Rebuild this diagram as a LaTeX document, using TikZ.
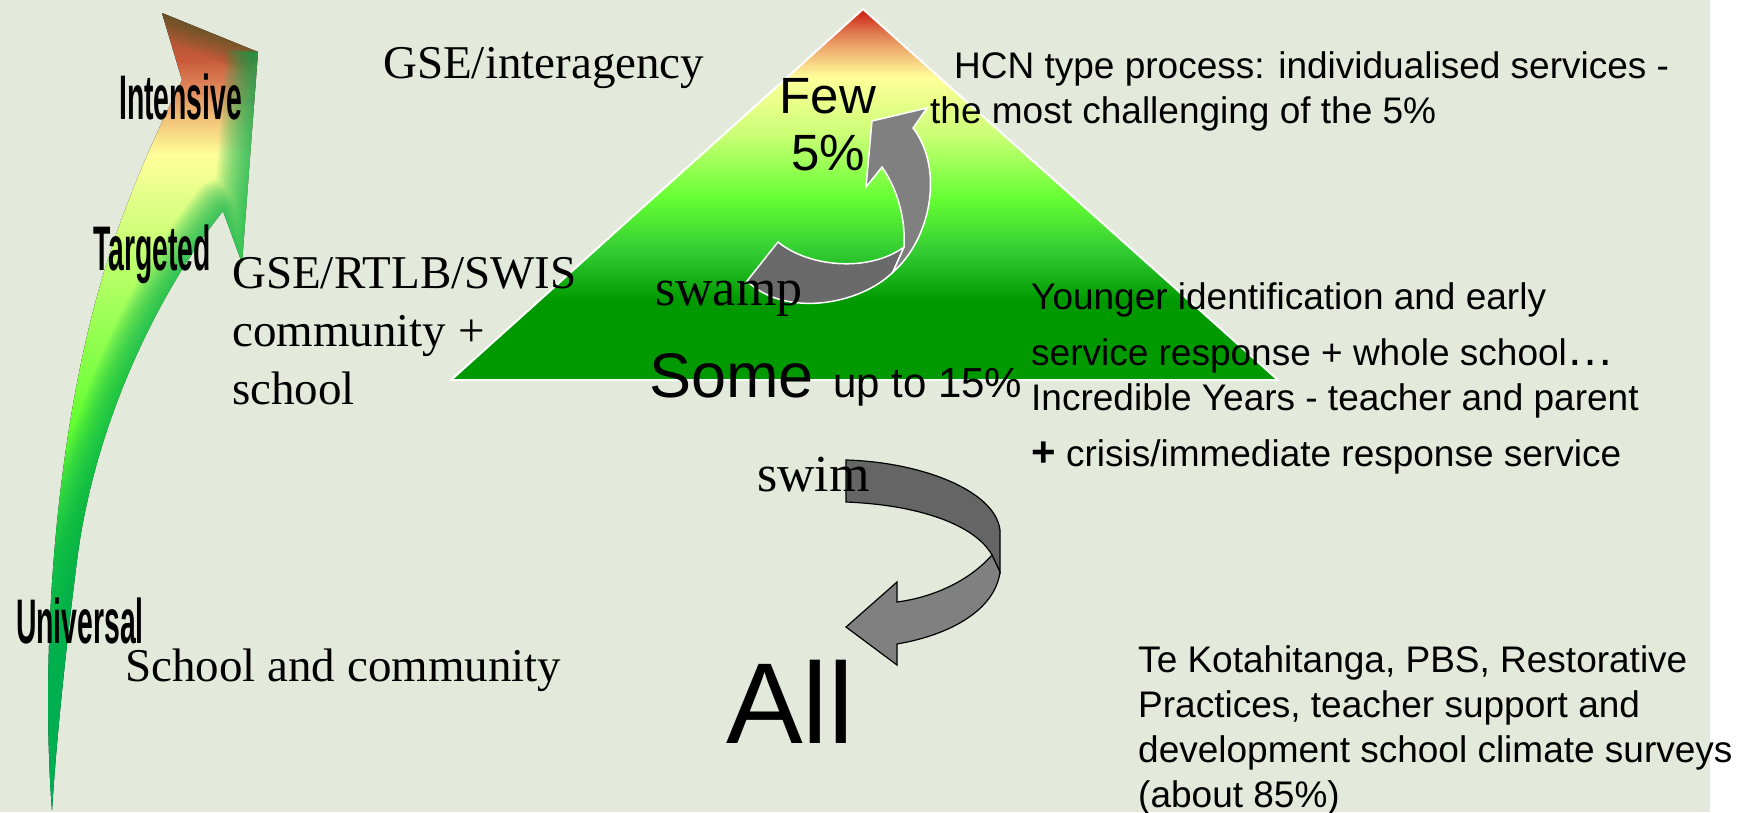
\documentclass[tikz,border=0pt]{standalone}
\usepackage{fontspec}
\setmainfont{Liberation Serif}
\setsansfont{Liberation Sans}

% slide colours
\definecolor{slidebg}{HTML}{E3E9DB}
\definecolor{ribbondark}{HTML}{6A6A6A}
\definecolor{ribbonlight}{HTML}{808080}
\definecolor{climbedge}{HTML}{00B050}
% pyramid shading stops
\definecolor{pyr0}{HTML}{CC1A10}
\definecolor{pyr1}{HTML}{E07A50}
\definecolor{pyr2}{HTML}{F0B070}
\definecolor{pyr3}{HTML}{FFFF99}
\definecolor{pyr4}{HTML}{CCFF77}
\definecolor{pyr5}{HTML}{66FF33}
\definecolor{pyr6}{HTML}{33CC33}
\definecolor{pyr7}{HTML}{009900}
% rising arrow shading stops
\definecolor{climb0}{HTML}{A05030}
\definecolor{climb1}{HTML}{C85A3A}
\definecolor{climb2}{HTML}{E28A5E}
\definecolor{climb3}{HTML}{F2C47A}
\definecolor{climb4}{HTML}{FFFF99}
\definecolor{climb5}{HTML}{E2FF88}
\definecolor{climb6}{HTML}{A6FF5C}
\definecolor{climb7}{HTML}{66FF33}
\definecolor{climb8}{HTML}{22CC44}
\definecolor{climb9}{HTML}{00B050}

\pgfdeclareverticalshading{pyramidfill}{100bp}{color(0bp)=(pyr7); color(25bp)=(pyr7);
  color(35.7bp)=(pyr7); color(42.4bp)=(pyr6); color(49.6bp)=(pyr5); color(58.2bp)=(pyr4);
  color(65.8bp)=(pyr3); color(69.5bp)=(pyr2); color(71.8bp)=(pyr1); color(75bp)=(pyr0);
  color(100bp)=(pyr0)}
\pgfdeclareverticalshading{climbfill}{100bp}{color(0bp)=(climb9); color(31.9bp)=(climb9);
  color(41.3bp)=(climb8); color(49.5bp)=(climb7); color(57bp)=(climb6); color(63.3bp)=(climb5);
  color(66.1bp)=(climb4); color(68.3bp)=(climb3); color(70.2bp)=(climb2); color(72.05bp)=(climb1);
  color(75bp)=(climb0); color(100bp)=(climb0)}

% outline of the rising arrow
\newcommand\climbpath{(52,810) .. controls (40,650) and (55,420) .. (110,253)
  .. controls (130,190) and (160,125) .. (182,80) -- (162,13) -- (258,52) -- (242,263) -- (223,211)
  .. controls (160,290) and (95,420) .. (77,560) .. controls (62,680) and (55,760) .. (52,810) -- cycle}

\tikzset{
  lbl/.style={inner sep=0, anchor=base west},
  serif/.style={lbl, font=\fontsize{47}{58}\selectfont},
  info/.style={lbl, align=left, font=\sffamily\fontsize{37}{45}\selectfont},
  tier/.style={lbl, font=\sffamily\bfseries\fontsize{63}{63}\selectfont},
  ribbon/.style={line width=1.5, line join=miter},
}

\begin{document}
\begin{tikzpicture}[x=1pt, y=-1pt]
% backdrop
\fill[white] (0,0) rectangle (1756,812);
\fill[slidebg] (0,0) rectangle (1710,812);
\useasboundingbox (0,0) rectangle (1756,812);

% rising arrow on the left, darker green along its right edge
\fill[shading=climbfill] \climbpath;
\begin{scope}
  \clip \climbpath;
  \foreach \w in {4,8,...,48}
    \draw[line width=\w, draw=climbedge!50!black, opacity=0.03] (162,13) -- (258,52);
  \foreach \w in {4,8,...,64}
    \draw[line width=\w, draw=climbedge, opacity=0.07, line join=round]
      (258,52) -- (242,263) -- (223,211) .. controls (160,290) and (95,420) .. (77,560)
      .. controls (62,680) and (55,760) .. (52,810);
\end{scope}

% pyramid
\shadedraw[shading=pyramidfill, draw=white, line width=2] (863,9) -- (1278,380) -- (451,380) -- cycle;

% swamp -> few ribbon
\filldraw[ribbon, fill=ribbondark, draw=white] (778,242) .. controls (810,268) and (870,272) .. (904,247)
  -- (893,272) .. controls (860,305) and (785,318) .. (747,281) -- cycle;
\filldraw[ribbon, fill=ribbonlight, draw=white] (893,272) .. controls (930,240) and (945,170) .. (913,128)
  -- (927,108) -- (872,121) -- (866,187) -- (882,167) .. controls (895,185) and (906,215) .. (904,247) -- cycle;

% swim -> all ribbon
\filldraw[ribbon, line width=1.2, fill=ribbondark!95!black, draw=black] (846,460) .. controls (920,462) and (995,490) .. (1000,530)
  -- (1000,572) -- (992,555) .. controls (975,525) and (920,505) .. (846,502) -- cycle;
\filldraw[ribbon, line width=1.2, fill=ribbonlight, draw=black] (992,555) .. controls (970,580) and (935,597) .. (897,602)
  -- (897,582) -- (846,627) -- (897,665) -- (897,644) .. controls (950,635) and (995,610) .. (1000,572) -- cycle;

% tier names along the arrow
\node[tier] (intensive) at (119,119) {\scalebox{0.45}[1]{Intensive}};
\node[tier] (targeted) at (93,270) {\scalebox{0.45}[1]{Targeted}};
\node[tier] (universal) at (16,643) {\scalebox{0.45}[1]{Universal}};

% who delivers (multi-line nodes sit on their last baseline)
\node[serif] (gseinter) at (383,78) {GSE/interagency};
\node[serif, align=left] (gsertlb) at (232,404) {GSE/RTLB/SWIS\\community +\\school};
\node[serif] (schoolcomm) at (125,681) {School and community};

% pyramid tiers
\node[lbl, anchor=base, align=center, font=\sffamily\fontsize{51}{57}\selectfont] (few) at (828,170) {Few\\5\%};
\node[lbl, font=\fontsize{52}{52}\selectfont] (swamp) at (655,305) {swamp};
\node[lbl, font=\fontsize{52}{52}\selectfont] (swim) at (757,491) {swim};
\node[lbl, font=\sffamily\fontsize{63}{63}\selectfont] (some) at (649,397) {Some};
\node[lbl, font=\sffamily\fontsize{42}{42}\selectfont] (upto) at (833,397) {up to 15\%};
\node[lbl, font=\sffamily\fontsize{115}{115}\selectfont] (all) at (726,743) {All};

% services
\node[info] (hcn) at (930,123) {\hspace*{24pt}HCN type process: individualised services -\\the most challenging of the 5\%};
\node[info] (younger) at (1031,466) {Younger identification and early\\[11pt]service response + whole school{\fontsize{48}{48}\selectfont …}\\Incredible Years - teacher and parent\\[11pt]{\bfseries\fontsize{42}{42}\selectfont +} crisis/immediate response service};
\node[info] (tekota) at (1138,807) {Te Kotahitanga, PBS, Restorative\\Practices, teacher support and\\development school climate surveys\\(about 85\%)};
\end{tikzpicture}
\end{document}
